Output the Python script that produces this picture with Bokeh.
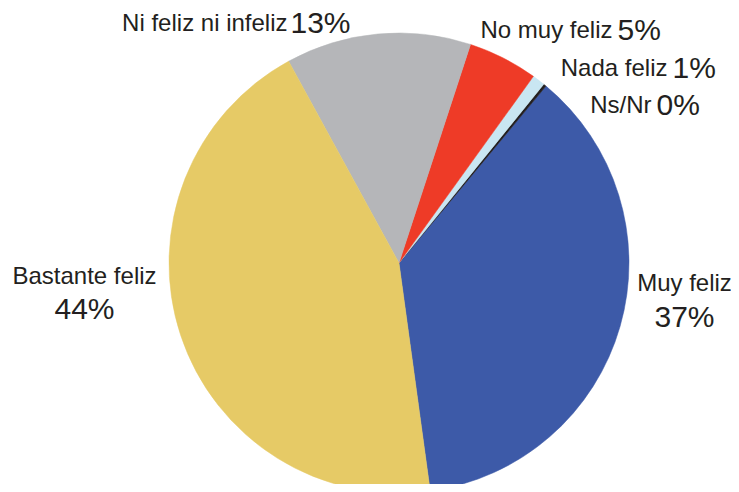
import math
from bokeh.plotting import figure
from bokeh.models import ColumnDataSource
from bokeh.core.properties import value
from bokeh.embed import file_html
from bokeh.resources import INLINE

# ---- data ----
categories = ["Muy feliz", "Ns/Nr", "Nada feliz", "No muy feliz", "Ni feliz ni infeliz", "Bastante feliz"]
values = [36.8, 0.2, 0.9, 4.9, 13.0, 44.2]
pct_labels = ["37%", "0%", "1%", "5%", "13%", "44%"]
colors = ["#3d5aa8", "#231f20", "#c9e6f2", "#ee3b27", "#b5b6b9", "#e6ca66"]

W, H = 731, 484
# coordinate system: reference-image pixels, y measured upward from the image bottom (492)
IMG_H = 492
def Y(ref_y):
    return IMG_H - ref_y

cx, cy, r = 398.5, Y(262.5), 230.0
start_deg = -82.2

total = sum(values)
starts, ends = [], []
a = math.radians(start_deg)
for v in values:
    starts.append(a)
    a += 2 * math.pi * v / total
    ends.append(a)

src = ColumnDataSource(dict(cat=categories, start=starts, end=ends, color=colors))

p = figure(width=W, height=H, x_range=(0, W), y_range=(Y(H), Y(0)),
           output_backend="svg", toolbar_location=None, min_border=0)
p.axis.visible = False
p.grid.visible = False
p.outline_line_color = None
p.background_fill_color = "white"
p.border_fill_color = "white"

p.wedge(x=cx, y=cy, radius=r, start_angle="start", end_angle="end",
        fill_color="color", line_color="color", line_width=0.5, source=src)

font = value("Liberation Sans")
tcol = "#231f20"
small = "24px"
big = "30px"
dy_small = 10   # baseline correction for rendering
dy_big = 11

# inline labels: (category index, label right x, number left x, baseline ref y)
inline = [
    (4, 287, 290, 32),
    (3, 612, 617, 39),
    (2, 667, 672, 77),
    (1, 651, 656, 114),
]
p.text(x=[t[1] for t in inline], y=[Y(t[3] - dy_small) for t in inline],
       text=[categories[t[0]] for t in inline],
       text_font=font, text_font_size=small, text_color=tcol,
       text_align="right", text_baseline="alphabetic")
p.text(x=[t[2] for t in inline], y=[Y(t[3] - dy_small) for t in inline],
       text=[pct_labels[t[0]] for t in inline],
       text_font=font, text_font_size=big, text_color=tcol,
       text_align="left", text_baseline="alphabetic")

# stacked labels: (category index, center x, label baseline, number baseline)
stacked = [
    (5, 84, 285, 319),
    (0, 684, 292, 327),
]
p.text(x=[t[1] for t in stacked], y=[Y(t[2] - dy_small) for t in stacked],
       text=[categories[t[0]] for t in stacked],
       text_font=font, text_font_size=small, text_color=tcol,
       text_align="center", text_baseline="alphabetic")
p.text(x=[t[1] for t in stacked], y=[Y(t[3] - dy_big) for t in stacked],
       text=[pct_labels[t[0]] for t in stacked],
       text_font=font, text_font_size=big, text_color=tcol,
       text_align="center", text_baseline="alphabetic")

open("out.html", "w").write(file_html(p, INLINE))
